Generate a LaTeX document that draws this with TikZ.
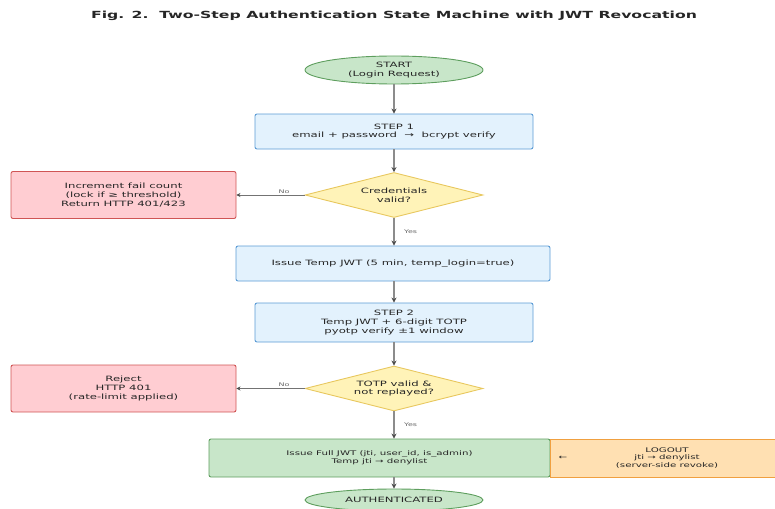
\documentclass[tikz,border=0pt]{standalone}
\usepackage{fontspec}
\setmainfont[FakeStretch=1.6]{DejaVu Sans}
\usetikzlibrary{shapes.geometric,arrows.meta}
\definecolor{gfill}{HTML}{C8E6C9}
\definecolor{gdraw}{HTML}{5E9E5E}
\definecolor{bfill}{HTML}{E3F2FD}
\definecolor{bdraw}{HTML}{5B9BD5}
\definecolor{rfill}{HTML}{FFCDD2}
\definecolor{rdraw}{HTML}{D05555}
\definecolor{yfill}{HTML}{FFF3B8}
\definecolor{ydraw}{HTML}{E8C860}
\definecolor{ofill}{HTML}{FFE0B2}
\definecolor{odraw}{HTML}{F0A040}
\tikzset{
  every node/.style={font=\fontsize{7.3}{8.6}\selectfont, align=center, text=black!85},
  term/.style={ellipse, draw=gdraw, fill=gfill, line width=0.9pt, minimum width=178pt, minimum height=28pt, inner sep=0pt},
  bbox/.style={rectangle, rounded corners=2pt, draw=bdraw, fill=bfill, line width=0.9pt, inner sep=0pt},
  rbox/.style={rectangle, rounded corners=2pt, draw=rdraw, fill=rfill, line width=0.9pt, minimum width=225pt, minimum height=47pt, inner sep=0pt},
  gbox/.style={rectangle, rounded corners=2pt, draw=gdraw, fill=gfill, line width=0.9pt, inner sep=0pt},
  obox/.style={rectangle, draw=odraw, fill=ofill, line width=0.9pt, inner sep=0pt},
  dec/.style={diamond, aspect=3.95, draw=ydraw, fill=yfill, line width=0.9pt, minimum width=178pt, minimum height=45pt, inner sep=0pt},
  vflow/.style={draw=black!45, line width=1.8pt, -{Stealth[length=5pt,width=5pt,color=black!70]}},
  hflow/.style={draw=black!55, line width=0.7pt, -{Stealth[length=4pt,width=4pt,color=black!70]}},
  lbl/.style={font=\fontsize{5}{6}\selectfont, text=black!60}
}
\begin{document}
\begin{tikzpicture}[x=1pt,y=-1pt]
\useasboundingbox (0,0) rectangle (775,508);
\clip (0,0) rectangle (775,508);
\node[font=\bfseries\fontsize{9.8}{12}\selectfont] (title) at (394,16) {Fig. 2.\ \ Two-Step Authentication State Machine with JWT Revocation};

\node[term] (start) at (394,70) {START\\(Login Request)};
\node[bbox, minimum width=278pt, minimum height=35pt] (s1) at (394,131.5) {STEP 1\\email + password \ → \ bcrypt verify};
\node[dec] (d1) at (394,195) {Credentials\\valid?};
\node[rbox] (fail) at (123.5,195) {Increment fail count\\(lock if ≥ threshold)\\Return HTTP 401/423};
\node[bbox, minimum width=314pt, minimum height=35pt] (tmp) at (393,263.5) {Issue Temp JWT (5 min, temp\_login=true)};
\node[bbox, minimum width=278pt, minimum height=39pt] (s2) at (394,322.5) {STEP 2\\Temp JWT + 6-digit TOTP\\pyotp verify ±1 window};
\node[dec] (d2) at (394,388.5) {TOTP valid \&\\not replayed?};
\node[rbox] (rej) at (123.5,388.5) {Reject\\HTTP 401\\(rate-limit applied)};
\node[gbox, minimum width=341pt, minimum height=38pt, font=\fontsize{6.4}{7.6}\selectfont] (full) at (379.5,458) {Issue Full JWT (jti, user\_id, is\_admin)\\Temp jti → denylist};
\node[obox, minimum width=236pt, minimum height=38pt, anchor=west] (out) at (550,458) {};
\node[font=\fontsize{6.4}{7.6}\selectfont] (outtxt) at (667,458) {LOGOUT\\jti → denylist\\(server-side revoke)};
\node[font=\fontsize{6.4}{7.6}\selectfont] (larr) at (563,458) {←};
\node[term, minimum height=22pt] (auth) at (394,500) {AUTHENTICATED};

\draw[vflow] (start) -- (s1);
\draw[vflow] (s1) -- (d1);
\draw[vflow] (d1.south) -- node[lbl, right, xshift=6pt] {Yes} (d1.south |- tmp.north);
\draw[vflow] (tmp.south -| s2.north) -- (s2.north);
\draw[vflow] (s2) -- (d2);
\draw[vflow] (d2.south) -- node[lbl, right, xshift=6pt] {Yes} (d2.south |- full.north);
\draw[vflow] (full.south -| auth.north) -- (auth.north);
\draw[hflow] (d1.west) -- node[lbl, above, pos=0.3, yshift=-2pt] {No} (fail.east);
\draw[hflow] (d2.west) -- node[lbl, above, pos=0.3, yshift=-2pt] {No} (rej.east);
\end{tikzpicture}
\end{document}
